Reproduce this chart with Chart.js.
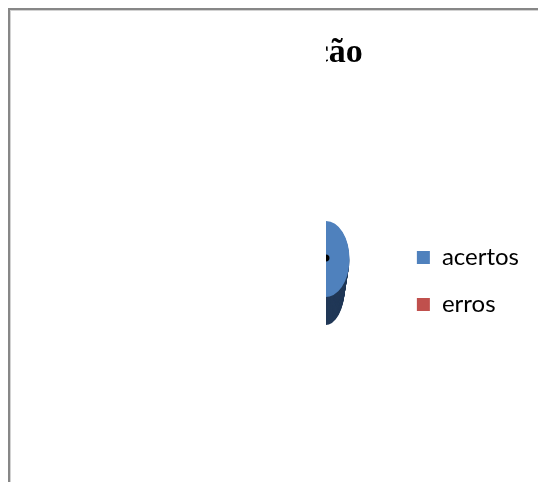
<!DOCTYPE html>
<html>
<head>
<meta charset="utf-8">
<script src="https://cdn.jsdelivr.net/npm/chart.js@4.4.1/dist/chart.umd.min.js"></script>
<style>
  html, body { margin: 0; padding: 0; background: #fff; overflow: hidden; }
  #frame {
    position: absolute; left: 8px; top: 8px; width: 640px; height: 600px;
    border-left: 2px solid #878787; border-top: 2px solid #878787;
  }
  #frame::after {
    content: ''; position: absolute; left: 0; top: 0; right: 0; bottom: 0;
    border-left: 1px solid #d2d2d2; border-top: 1px solid #d2d2d2;
  }
  #chart { position: absolute; left: 0; top: 0; }
</style>
</head>
<body>
<div id="frame"></div>
<canvas id="chart" width="538" height="482"></canvas>
<script>
// Pie data
const categories = ['acertos', 'erros'];
const values = [14, 6];
const chartTitle = 'Ação';

// Slice colours: top face and darker side wall
const faceColors = ['#4f81bd', '#c0504d'];
const sideColors = ['#213857', '#7a2e2c'];

// Map the round pie into a squeezed, raised disc about its centre
function project(ctx, cx, cy, lift, squeeze) {
  ctx.translate(cx, cy + lift);
  ctx.scale(squeeze, 1);
  ctx.translate(-cx, -cy);
}

const tiltedPie = {
  id: 'tiltedPie',
  // only the right half of the figure is shown
  beforeDraw(chart) {
    const { ctx, chartArea } = chart;
    const cut = (chartArea.left + chartArea.right) / 2;
    ctx.save();
    ctx.beginPath();
    ctx.rect(cut, 0, chart.width - cut, chart.height);
    ctx.clip();
  },
  afterDraw(chart) {
    chart.ctx.restore();
  },
  // side wall: the same arcs stacked downwards in the darker colours,
  // narrowing a little towards the base
  beforeDatasetsDraw(chart, args, opts) {
    const meta = chart.getDatasetMeta(0);
    const ctx = chart.ctx;
    const { x, y } = meta.data[0];
    for (let d = opts.depth; d >= 1; d--) {
      const sx = opts.squeeze * (1 - opts.taper * d / opts.depth);
      ctx.save();
      project(ctx, x, y, d, sx);
      meta.data.forEach((arc, i) => {
        const face = arc.options;
        arc.options = Object.assign({}, face, { backgroundColor: sideColors[i] });
        arc.draw(ctx);
        arc.options = face;
      });
      ctx.restore();
    }
  },
  beforeDatasetDraw(chart, args, opts) {
    const { x, y } = args.meta.data[0];
    chart.ctx.save();
    project(chart.ctx, x, y, 0, opts.squeeze);
  },
  afterDatasetDraw(chart) {
    chart.ctx.restore();
  },
  // hub at the centre of the disc
  afterDatasetsDraw(chart, args, opts) {
    const { x, y } = chart.getDatasetMeta(0).data[0];
    const ctx = chart.ctx;
    ctx.save();
    ctx.fillStyle = '#000';
    ctx.beginPath();
    ctx.arc(x, y - 1, opts.hub, 0, Math.PI * 2);
    ctx.fill();
    ctx.restore();
  }
};

new Chart(document.getElementById('chart'), {
  type: 'pie',
  data: {
    labels: categories,
    datasets: [{
      data: values,
      backgroundColor: faceColors,
      borderWidth: 0,
      radius: 38
    }]
  },
  options: {
    responsive: false,
    animation: false,
    events: [],
    layout: { padding: { left: 258, right: 9, top: 0, bottom: 142.5 } },
    plugins: {
      tiltedPie: { depth: 28, squeeze: 0.62, taper: 0.2, hub: 3.5 },
      tooltip: { enabled: false },
      title: {
        display: true,
        text: chartTitle,
        fullSize: false,
        color: '#000',
        font: { family: "'Liberation Serif', 'Times New Roman', serif", size: 34, weight: 'bold', lineHeight: 1.2 },
        padding: { top: 33, bottom: 104.5 }
      },
      legend: {
        position: 'right',
        align: 'end',
        labels: {
          boxWidth: 13,
          boxHeight: 13,
          padding: 23,
          color: '#000',
          font: { family: "Lato, 'Open Sans', sans-serif", size: 24 }
        }
      }
    }
  },
  plugins: [tiltedPie]
});
</script>
</body>
</html>
